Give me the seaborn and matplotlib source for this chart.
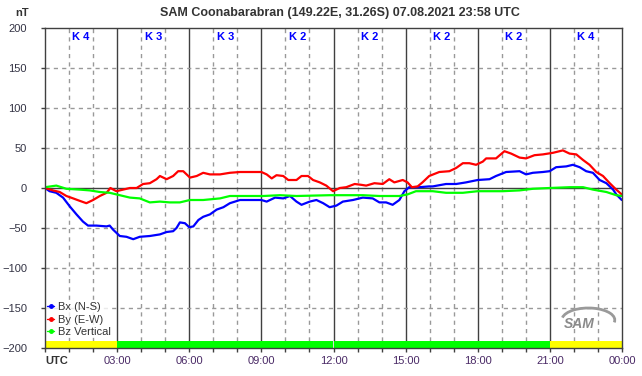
import pandas as pd
import seaborn as sns
import matplotlib.pyplot as plt
from matplotlib.lines import Line2D
from matplotlib.patches import Arc

# Bx (N-S) - Zeit in Stunden UTC, Werte in nT
bx_t = [0, 0.19, 0.47, 0.75, 1.03, 1.31, 1.58, 1.79, 2.14, 2.56, 2.69, 2.83, 3.11, 3.39, 3.67,
        3.94, 4.36, 4.78, 5.06, 5.33, 5.47, 5.61, 5.82, 6.0, 6.17, 6.38, 6.58, 6.86, 7.14, 7.42,
        7.69, 8.11, 8.53, 9.0, 9.22, 9.57, 9.91, 10.19, 10.46, 10.67, 11.01, 11.29, 11.57, 11.84,
        12.12, 12.39, 12.81, 13.22, 13.63, 13.91, 14.19, 14.46, 14.74, 14.95, 15.15, 15.57, 15.98,
        16.13, 16.68, 17.1, 17.51, 18.0, 18.49, 18.76, 19.18, 19.74, 20.01, 20.29, 20.71, 20.99,
        21.26, 21.68, 21.96, 22.24, 22.51, 22.79, 23.07, 23.35, 23.63, 23.76, 23.99]
bx_v = [0, -4, -6, -12, -23, -33, -42, -47, -47, -48, -47, -52, -60, -61, -64,
        -61, -60, -58, -55, -54, -50, -43, -44, -49, -48, -40, -36, -33, -27, -24,
        -19, -15, -15, -15, -17, -12, -13, -10, -17, -21, -17, -15, -19, -24,
        -22, -17, -15, -12, -13, -18, -18, -21, -15, -4, 1, 1, 2,
        2, 5, 5, 7, 10, 11, 15, 20, 21, 17, 19, 20, 21,
        26, 27, 29, 26, 21, 19, 10, 6, -2, -8, -15]

# By (E-W)
by_t = [0, 0.33, 0.61, 0.89, 1.17, 1.44, 1.72, 2.0, 2.28, 2.56, 2.72, 2.97, 3.25, 3.53, 3.81,
        4.08, 4.36, 4.64, 4.78, 5.06, 5.33, 5.54, 5.75, 6.03, 6.31, 6.58, 6.86, 7.28, 7.69, 8.11,
        8.67, 9.0, 9.22, 9.43, 9.63, 9.91, 10.12, 10.46, 10.67, 10.94, 11.15, 11.43, 11.7, 11.98,
        12.26, 12.53, 12.88, 13.15, 13.36, 13.7, 14.05, 14.32, 14.53, 14.88, 15.08, 15.26, 15.5,
        15.7, 15.98, 16.4, 16.82, 17.1, 17.38, 17.65, 17.93, 18.21, 18.35, 18.76, 19.11, 19.39,
        19.74, 20.01, 20.36, 20.71, 21.13, 21.54, 21.82, 22.1, 22.38, 22.65, 22.93, 23.21, 23.49,
        23.76, 23.99]
by_v = [0, -3, -5, -10, -13, -16, -19, -15, -10, -6, 0, -4, -2, 0, 0,
        5, 6, 11, 15, 11, 15, 21, 21, 13, 15, 19, 17, 17, 19, 20,
        20, 20, 17, 12, 16, 15, 10, 10, 15, 15, 10, 7, 3, -4,
        0, 1, 5, 4, 3, 6, 5, 11, 7, 10, 7, 1, 2,
        7, 15, 20, 21, 25, 31, 31, 29, 33, 37, 37, 46, 43,
        38, 37, 41, 42, 44, 47, 43, 42, 35, 29, 20, 15, 6,
        -2, -8]

# Bz Vertical
bz_t = [0, 0.47, 0.89, 1.44, 1.86, 2.28, 2.69, 3.11, 3.53, 3.94, 4.36, 4.78, 5.19, 5.61, 6.03,
        6.58, 7.28, 7.69, 8.11, 9.08, 9.77, 10.46, 11.84, 13.22, 13.91, 14.74, 15.08, 15.43,
        15.98, 16.13, 16.68, 17.38, 18.0, 19.04, 19.74, 20.29, 20.99, 21.82, 22.38, 22.79,
        23.35, 23.76, 23.99]
bz_v = [1, 3, -1, -2, -3, -5, -6, -9, -12, -13, -18, -17, -18, -18, -15,
        -15, -13, -10, -10, -10, -9, -10, -9, -9, -10, -10, -8, -4,
        -4, -4, -6, -6, -4, -4, -3, -1, 0, 1, 1, -2,
        -5, -9, -10]

# K-Indizes je 3-Stunden-Intervall
k_index = [4, 3, 3, 2, 2, 2, 2, 4]
k_farben = {2: "#00ff00", 3: "#00ff00", 4: "#ffff00"}
x_labels = ["UTC", "03:00", "06:00", "09:00", "12:00", "15:00", "18:00", "21:00", "00:00"]

df = pd.concat([
    pd.DataFrame({"t": bx_t, "nT": bx_v, "Komp": "Bx (N-S)"}),
    pd.DataFrame({"t": by_t, "nT": by_v, "Komp": "By (E-W)"}),
    pd.DataFrame({"t": bz_t, "nT": bz_v, "Komp": "Bz Vertical"}),
])
farben = {"Bx (N-S)": "#0000ff", "By (E-W)": "#ff0000", "Bz Vertical": "#00ff00"}

sns.set_style("white")
plt.rcParams["font.family"] = ["Liberation Sans", "DejaVu Sans"]

fig = plt.figure(figsize=(6.42, 3.76), dpi=100)
ax = fig.add_axes([45 / 642, 1 - 348 / 376, 577 / 642, 320 / 376])

# K-Index Balken unten und Beschriftung oben
for i, k in enumerate(k_index):
    ax.bar(i * 3 + 1.5, 9, width=3, bottom=-200, color=k_farben[k], lw=0,
           antialiased=False, zorder=2)
    ax.text(i * 3 + 1.5, 189, f"K {k}", color="#0000ff", fontsize=8, fontweight="bold",
            ha="center", va="center", zorder=3)

# Gitter
for h in range(1, 24):
    if h % 3 == 0:
        ax.axvline(h, color="#404040", lw=1, zorder=1)
    else:
        ax.axvline(h, ymin=9 / 400, color="#999999", lw=1, ls=(0, (3, 3)), zorder=1)
for y in [-150, -100, -50, 50, 100, 150]:
    ax.axhline(y, color="#999999", lw=1, ls=(0, (3, 3)), zorder=1)
ax.axhline(0, color="#404040", lw=1, zorder=1)

sns.lineplot(data=df, x="t", y="nT", hue="Komp", palette=farben, lw=1.6, sort=False,
             legend=False, ax=ax, zorder=4)

ax.set_xlim(0, 24)
ax.set_ylim(-200, 200)
ax.set_xticks(range(0, 25, 3))
ax.set_xticks(range(0, 25), minor=True)
ax.set_xticklabels(x_labels)
ax.set_yticks(range(-200, 201, 50))
ax.set_xlabel("")
ax.set_ylabel("")
ax.tick_params(axis="both", which="both", direction="out", length=3, width=1, color="#404040")
ax.tick_params(axis="y", labelsize=8, labelcolor="#333344", pad=10, left=True)
ax.tick_params(axis="x", labelsize=8, labelcolor="#4a2a66", pad=3, bottom=True)
ax.tick_params(axis="x", which="minor", bottom=True)
lab0 = ax.get_xticklabels()[0]
lab0.set_fontweight("bold")
lab0.set_color("#333333")
lab0.set_horizontalalignment("left")
for s in ax.spines.values():
    s.set_color("#404040")
    s.set_linewidth(1)
    s.set_zorder(5)

handles = [Line2D([0], [0], color=c, marker="o", markersize=2.5, lw=1) for c in farben.values()]
leg = ax.legend(handles, list(farben.keys()), loc="lower left", bbox_to_anchor=(0.002, 0.03),
                frameon=True, fontsize=8, handlelength=0.6, handletextpad=0.4, labelspacing=0.25,
                borderpad=0.1, borderaxespad=0, labelcolor="#333333", fancybox=False)
leg.get_frame().set_facecolor("white")
leg.get_frame().set_edgecolor("none")
leg.set_zorder(3)

# SAM-Logo (vereinfacht)
ax.text(22.2, -170, "SAM", fontsize=10, fontstyle="italic", fontweight="bold",
        color="#8a8a8a", ha="center", va="center", zorder=3)
ax.add_patch(Arc((22.6, -165), 2.2, 30, theta1=-70, theta2=110, color="#9a9a9a", lw=2, zorder=3))

fig.text(340 / 642, 1 - 13 / 376, "SAM Coonabarabran (149.22E, 31.26S) 07.08.2021 23:58 UTC",
         ha="center", va="center", fontsize=9, fontweight="bold", color="#333333")
fig.text(22 / 642, 1 - 12.5 / 376, "nT", ha="center", va="center", fontsize=8,
         fontweight="bold", color="#333333")

fig.savefig("out.png", dpi=100, facecolor="white")
